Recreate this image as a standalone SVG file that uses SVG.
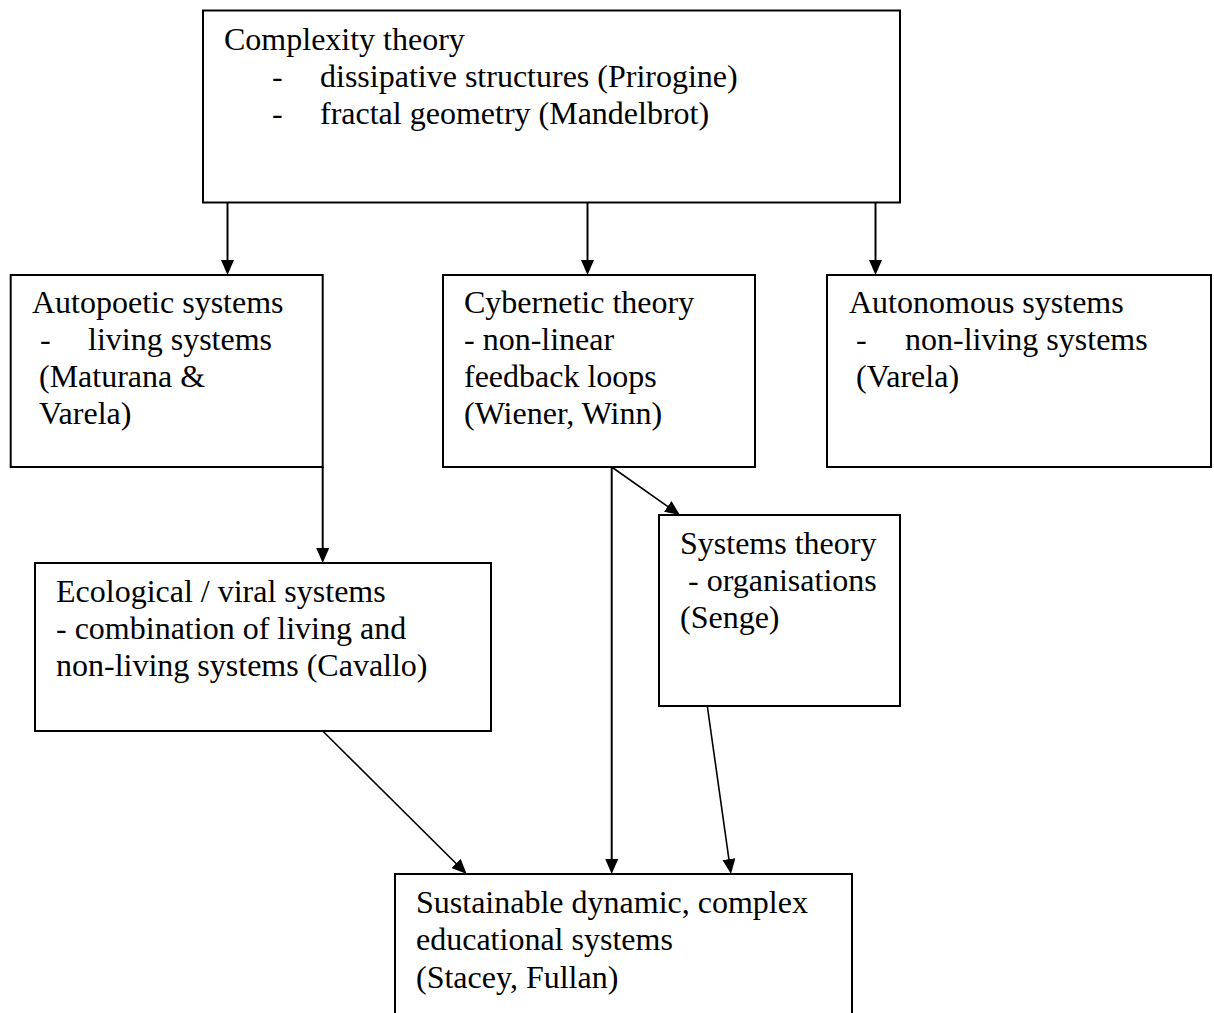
<svg xmlns="http://www.w3.org/2000/svg" width="1214" height="1013" viewBox="0 0 1214 1013">
<style>
  .box { fill: #fff; stroke: #000; stroke-width: 2; }
  .t { font-family: "Liberation Serif", "Times New Roman", serif; font-size: 32px; fill: #000; }
  .c { stroke: #000; fill: none; }
  .v { stroke-width: 2; }
  .d { stroke-width: 1.6; }
</style>
<defs>
  <marker id="ah" markerUnits="userSpaceOnUse" markerWidth="16" markerHeight="14" refX="5" refY="6.5" orient="auto">
    <path d="M0,0 L15,6.5 L0,13 z" fill="#000"/>
  </marker>
</defs>
<rect width="1214" height="1013" fill="#fff"/>

<g id="connectors">
  <line class="c v" x1="227.5" y1="203" x2="227.5" y2="265" marker-end="url(#ah)"/>
  <line class="c v" x1="587.5" y1="203" x2="587.5" y2="265" marker-end="url(#ah)"/>
  <line class="c v" x1="875.5" y1="203" x2="875.5" y2="265" marker-end="url(#ah)"/>
  <line class="c v" x1="322.7" y1="467" x2="322.7" y2="553" marker-end="url(#ah)"/>
  <line class="c d" x1="611.7" y1="467" x2="671.8" y2="509.3" marker-end="url(#ah)"/>
  <line class="c v" x1="611.7" y1="467" x2="611.7" y2="864" marker-end="url(#ah)"/>
  <line class="c d" x1="322.7" y1="731" x2="459.6" y2="867" marker-end="url(#ah)"/>
  <line class="c d" x1="707.3" y1="706" x2="729.6" y2="864.1" marker-end="url(#ah)"/>
</g>

<g id="complexity">
  <rect class="box" x="203" y="10.5" width="697" height="192"/>
  <text class="t" x="224" y="50">Complexity theory</text>
  <text class="t" y="87"><tspan x="272">-</tspan><tspan x="320">dissipative structures (Prirogine)</tspan></text>
  <text class="t" y="124"><tspan x="272">-</tspan><tspan x="320">fractal geometry (Mandelbrot)</tspan></text>
</g>

<g id="autopoetic">
  <rect class="box" x="10.7" y="275" width="312" height="192"/>
  <text class="t" x="32" y="313">Autopoetic systems</text>
  <text class="t" y="350"><tspan x="40">-</tspan><tspan x="88">living systems</tspan></text>
  <text class="t" x="39" y="387">(Maturana &amp;</text>
  <text class="t" x="39" y="424">Varela)</text>
</g>

<g id="cybernetic">
  <rect class="box" x="443" y="275" width="312" height="192"/>
  <text class="t" x="464" y="313">Cybernetic theory</text>
  <text class="t" x="464" y="350">- non-linear</text>
  <text class="t" x="464" y="387">feedback loops</text>
  <text class="t" x="464" y="424">(Wiener, Winn)</text>
</g>

<g id="autonomous">
  <rect class="box" x="827" y="275" width="384" height="192"/>
  <text class="t" x="849" y="313">Autonomous systems</text>
  <text class="t" y="350"><tspan x="856">-</tspan><tspan x="905">non-living systems</tspan></text>
  <text class="t" x="856" y="387">(Varela)</text>
</g>

<g id="ecological">
  <rect class="box" x="35" y="563" width="456" height="168"/>
  <text class="t" x="56" y="602">Ecological / viral systems</text>
  <text class="t" x="56" y="639">- combination of living and</text>
  <text class="t" x="56" y="676">non-living systems (Cavallo)</text>
</g>

<g id="systems">
  <rect class="box" x="659" y="515" width="241" height="191"/>
  <text class="t" x="680" y="554">Systems theory</text>
  <text class="t" x="688" y="591">- organisations</text>
  <text class="t" x="680" y="628">(Senge)</text>
</g>

<g id="sustainable">
  <rect class="box" x="395" y="874" width="457" height="170"/>
  <text class="t" x="416" y="913">Sustainable dynamic, complex</text>
  <text class="t" x="416" y="950">educational systems</text>
  <text class="t" x="416" y="988">(Stacey, Fullan)</text>
</g>
</svg>
